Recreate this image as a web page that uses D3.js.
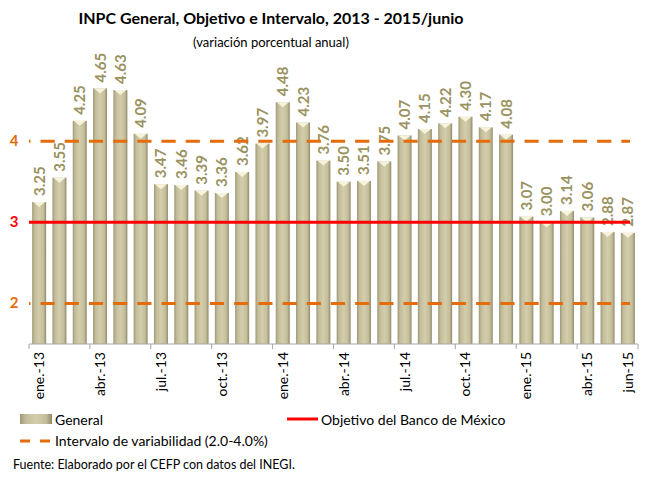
<!DOCTYPE html>
<html>
<head>
<meta charset="utf-8">
<script src="https://cdn.jsdelivr.net/npm/d3@7"></script>
<style>
  body { margin: 0; background: #fff; }
  text { font-family: Lato, "Open Sans", sans-serif; }
</style>
</head>
<body>
<div id="chart"></div>
<script>
var months = ["ene.-13","feb.-13","mar.-13","abr.-13","may.-13","jun.-13","jul.-13","ago.-13","sep.-13","oct.-13","nov.-13","dic.-13",
  "ene.-14","feb.-14","mar.-14","abr.-14","may.-14","jun.-14","jul.-14","ago.-14","sep.-14","oct.-14","nov.-14","dic.-14",
  "ene.-15","feb.-15","mar.-15","abr.-15","may.-15","jun-15"];
var general = [3.25, 3.55, 4.25, 4.65, 4.63, 4.09, 3.47, 3.46, 3.39, 3.36, 3.62, 3.97,
  4.48, 4.23, 3.76, 3.50, 3.51, 3.75, 4.07, 4.15, 4.22, 4.30, 4.17, 4.08,
  3.07, 3.00, 3.14, 3.06, 2.88, 2.87];
var shownLabels = ["ene.-13","abr.-13","jul.-13","oct.-13","ene.-14","abr.-14","jul.-14","oct.-14","ene.-15","abr.-15","jun-15"];
var objetivo = 3;
var intervalo = [2, 4];
var yTicks = [2, 3, 4];

var svgWidth = 646;
var svgHeight = 477;

var margin = { top: 60, right: 8, bottom: 133, left: 29 };
var chartWidth = svgWidth - margin.left - margin.right;
var chartHeight = svgHeight - margin.top - margin.bottom;

var svg = d3.select("#chart").append("svg")
  .attr("width", svgWidth)
  .attr("height", svgHeight);

var defs = svg.append("defs");
var grad = defs.append("linearGradient").attr("id", "barGrad")
  .attr("x1", "0%").attr("x2", "100%").attr("y1", "0%").attr("y2", "0%");
grad.append("stop").attr("offset", "0%").attr("stop-color", "#9e9878");
grad.append("stop").attr("offset", "18%").attr("stop-color", "#c4bd9a");
grad.append("stop").attr("offset", "50%").attr("stop-color", "#d3cdab");
grad.append("stop").attr("offset", "82%").attr("stop-color", "#c4bd9a");
grad.append("stop").attr("offset", "100%").attr("stop-color", "#8f896a");

var chartGroup = svg.append("g")
  .attr("transform", `translate(${margin.left}, ${margin.top})`);

var x = d3.scaleBand()
  .domain(months)
  .range([0, chartWidth])
  .paddingInner(0.31)
  .paddingOuter(0.155);

var y = d3.scaleLinear()
  .domain([1.5, 5])
  .range([chartHeight, 0]);

// bars
var bars = chartGroup.selectAll("g.bar")
  .data(general)
  .enter()
  .append("g")
  .classed("bar", true);

bars.append("rect")
  .attr("x", (d, i) => x(months[i]))
  .attr("y", d => y(d))
  .attr("width", x.bandwidth())
  .attr("height", d => chartHeight - y(d))
  .attr("fill", "url(#barGrad)");

// bevel on top of each bar
bars.append("path")
  .attr("d", function (d, i) {
    var x0 = x(months[i]), w = x.bandwidth(), yt = y(d);
    return `M${x0 + 1},${yt} L${x0 + w - 1},${yt} L${x0 + w / 2},${yt + 5} Z`;
  })
  .attr("fill", "#f6f3dc");

// data labels
bars.append("text")
  .attr("transform", (d, i) => `translate(${x(months[i]) + x.bandwidth() / 2 + 5.5}, ${y(d) - 6}) rotate(-90)`)
  .attr("fill", "#9a9260")
  .attr("font-weight", "bold")
  .attr("font-size", "15px")
  .text(d => d.toFixed(2));

// interval lines
chartGroup.selectAll("line.intervalo")
  .data(intervalo)
  .enter()
  .append("line")
  .classed("intervalo", true)
  .attr("x1", 0)
  .attr("x2", chartWidth - 8)
  .attr("y1", d => y(d))
  .attr("y2", d => y(d))
  .attr("stroke", "#e46c0a")
  .attr("stroke-width", 3)
  .attr("stroke-dasharray", "1.5,10,12.7,0");

// objective line
chartGroup.append("line")
  .attr("x1", 0)
  .attr("x2", chartWidth - 8)
  .attr("y1", y(objetivo))
  .attr("y2", y(objetivo))
  .attr("stroke", "#ff0000")
  .attr("stroke-width", 3);

// y labels
chartGroup.selectAll("text.ylab")
  .data(yTicks)
  .enter()
  .append("text")
  .classed("ylab", true)
  .attr("x", -15)
  .attr("y", d => y(d) + 5)
  .attr("text-anchor", "middle")
  .attr("font-weight", "bold")
  .attr("font-size", "15px")
  .attr("fill", d => d === objetivo ? "#ff0000" : "#e46c0a")
  .text(d => d);

// x axis
var xAxis = chartGroup.append("g")
  .attr("transform", `translate(0, ${chartHeight})`);

xAxis.append("line")
  .attr("x1", 0).attr("x2", chartWidth)
  .attr("y1", 0).attr("y2", 0)
  .attr("stroke", "#a6a6a6");

var step = x.step();
var tickIdx = [0, 3, 6, 9, 12, 15, 18, 21, 24, 27, 30];
xAxis.selectAll("line.tick")
  .data(tickIdx)
  .enter()
  .append("line")
  .classed("tick", true)
  .attr("x1", d => d * step)
  .attr("x2", d => d * step)
  .attr("y1", 0)
  .attr("y2", 5)
  .attr("stroke", "#a6a6a6");

xAxis.selectAll("text")
  .data(shownLabels)
  .enter()
  .append("text")
  .attr("transform", d => `translate(${x(d) + x.bandwidth() / 2 + 5}, 8) rotate(-90)`)
  .attr("text-anchor", "end")
  .attr("font-size", "14px")
  .attr("fill", "#000")
  .text(d => d);

// titles
svg.append("text")
  .attr("x", 271)
  .attr("y", 24)
  .attr("text-anchor", "middle")
  .attr("font-weight", "bold")
  .attr("font-size", "16px")
  .text("INPC General, Objetivo e Intervalo, 2013 - 2015/junio");

svg.append("text")
  .attr("x", 271)
  .attr("y", 47)
  .attr("text-anchor", "middle")
  .attr("font-size", "13px")
  .text("(variación porcentual anual)");

// legend
var legend = svg.append("g");
legend.append("rect")
  .attr("x", 20).attr("y", 414).attr("width", 32).attr("height", 10)
  .attr("fill", "url(#barGrad)");
legend.append("text").attr("x", 55).attr("y", 425).attr("font-size", "14px").text("General");

legend.append("line")
  .attr("x1", 287).attr("x2", 318).attr("y1", 419).attr("y2", 419)
  .attr("stroke", "#ff0000").attr("stroke-width", 3);
legend.append("text").attr("x", 321).attr("y", 425).attr("font-size", "14px").text("Objetivo del Banco de México");

legend.append("line")
  .attr("x1", 20).attr("x2", 52).attr("y1", 441).attr("y2", 441)
  .attr("stroke", "#e46c0a").attr("stroke-width", 3)
  .attr("stroke-dasharray", "10,10");
legend.append("text").attr("x", 55).attr("y", 446).attr("font-size", "14px").text("Intervalo de variabilidad (2.0-4.0%)");

svg.append("text")
  .attr("x", 13).attr("y", 469)
  .attr("font-size", "12.5px")
  .attr("fill", "#000")
  .text("Fuente: Elaborado por el CEFP con datos del INEGI.");
</script>
</body>
</html>
